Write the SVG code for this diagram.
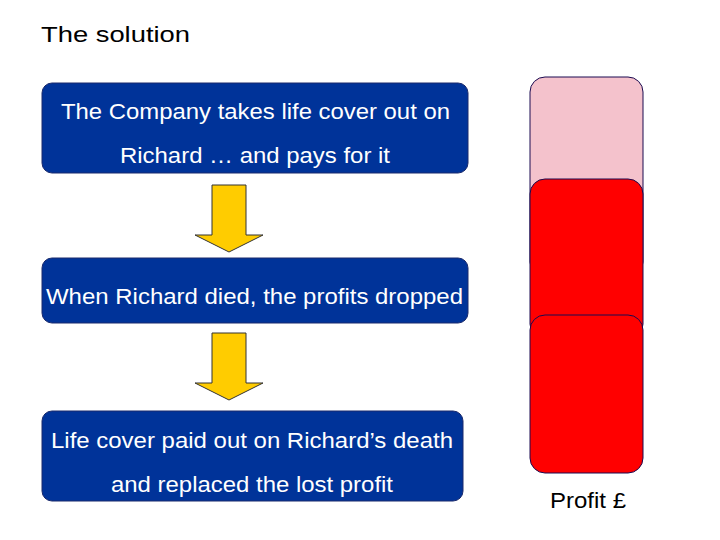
<svg xmlns="http://www.w3.org/2000/svg" width="720" height="540" viewBox="0 0 720 540">
<style>
text{font-family:"Liberation Sans",Arial,sans-serif;font-size:22px}
.box{fill:#003399;stroke:#1a2a6c;stroke-width:1}
.wt{fill:#fff}
.bar{stroke:#1a0a50;stroke-width:1}
.arr{fill:#ffcc00;stroke:#333;stroke-width:1}
</style>
<rect width="720" height="540" fill="#fff"/>
<text x="41" y="42" font-size="25" fill="#000" textLength="149" lengthAdjust="spacingAndGlyphs">The solution</text>
<g id="box1"><rect class="box" x="42" y="83" width="426" height="90" rx="10"/>
<text class="wt" x="61" y="119" textLength="389" lengthAdjust="spacingAndGlyphs">The Company takes life cover out on</text>
<text class="wt" x="120" y="163" textLength="270" lengthAdjust="spacingAndGlyphs">Richard … and pays for it</text></g>
<g id="box2"><rect class="box" x="42" y="258" width="426" height="65" rx="10"/>
<text class="wt" x="46" y="304" textLength="417" lengthAdjust="spacingAndGlyphs">When Richard died, the profits dropped</text></g>
<g id="box3"><rect class="box" x="42" y="411" width="421" height="90" rx="10"/>
<text class="wt" x="51" y="448" textLength="402" lengthAdjust="spacingAndGlyphs">Life cover paid out on Richard’s death</text>
<text class="wt" x="111" y="492" textLength="282" lengthAdjust="spacingAndGlyphs">and replaced the lost profit</text></g>
<g id="connectors">
<path class="arr" d="M212 185H246V235H263L229 252L195 235H212Z"/>
<path class="arr" d="M212 333H246V383H263L229 400L195 383H212Z"/>
</g>
<g id="bars">
<rect class="bar" x="530" y="77" width="113" height="200" rx="15" fill="#f4c2cc"/>
<rect class="bar" x="530" y="179" width="113" height="160" rx="15" fill="#ff0000"/>
<rect class="bar" x="530" y="315" width="113" height="158" rx="15" fill="#ff0000"/>
</g>
<text x="550" y="508" fill="#000" textLength="76" lengthAdjust="spacingAndGlyphs">Profit £</text>
</svg>
